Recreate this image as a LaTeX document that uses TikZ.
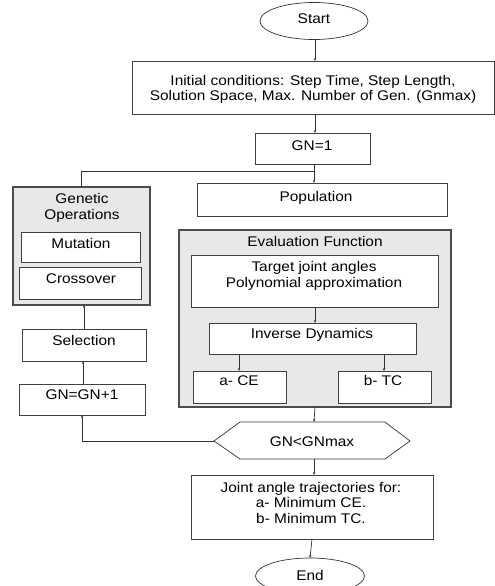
\documentclass[tikz,border=0pt]{standalone}
\usepackage{fontspec}
\setmainfont[FakeStretch=1.1]{Liberation Sans}
\usetikzlibrary{arrows.meta,shapes.geometric}
\begin{document}
\begin{tikzpicture}[x=1pt,y=-1pt,
  every node/.style={inner sep=0pt,outer sep=0pt},
  box/.style={draw=black!75,line width=0.8pt,fill=white,anchor=north west},
  gbox/.style={draw=black!70,line width=1.1pt,fill=gray!18,anchor=north west},
  txt/.style={anchor=base,font=\fontsize{14}{16}\selectfont,align=center},
  ln/.style={draw=black!80,line width=0.7pt},
  arr/.style={ln,-{Stealth[length=3pt,width=2.4pt]}}]
\useasboundingbox (0,0) rectangle (495,586);
% ellipses
\node[draw=black!80,line width=0.7pt,ellipse,minimum width=108pt,minimum height=37pt] (start) at (314,21) {};
\node[txt] (tstart) at (314,24) {Start};
% initial
\node[box,minimum width=362pt,minimum height=53pt] (init) at (132,61) {};
\node[txt] (tinit1) at (313,85) {Initial conditions: Step Time, Step Length,};
\node[txt] (tinit2) at (313,100) {Solution Space, Max. Number of Gen. (Gnmax)};
% GN=1
\node[box,minimum width=115pt,minimum height=31pt] (gn1) at (255,133) {};
\node[txt] (tgn1) at (312,150) {GN=1};
% population
\node[box,minimum width=250pt,minimum height=33pt] (pop) at (197,183) {};
\node[txt] (tpop) at (316,201) {Population};
% genetic operations
\node[gbox,minimum width=137pt,minimum height=118pt] (gen) at (13,187) {};
\node[txt] (tgen1) at (82,203) {Genetic};
\node[txt] (tgen2) at (82,219) {Operations};
\node[box,minimum width=119pt,minimum height=30pt] (mut) at (21,232) {};
\node[txt] (tmut) at (81,248) {Mutation};
\node[box,minimum width=122pt,minimum height=32pt] (cross) at (19,267) {};
\node[txt] (tcross) at (81,283) {Crossover};
% selection
\node[box,minimum width=124pt,minimum height=32pt] (sel) at (22,329) {};
\node[txt] (tsel) at (84,345) {Selection};
% GN=GN+1
\node[box,minimum width=126pt,minimum height=31pt] (gninc) at (19,384) {};
\node[txt] (tgninc) at (82,399) {GN=GN+1};
% evaluation function
\node[gbox,minimum width=272pt,minimum height=177pt] (eval) at (179,230) {};
\node[txt] (teval) at (315,246) {Evaluation Function};
\node[box,minimum width=247pt,minimum height=52pt] (target) at (191,255) {};
\node[txt] (ttarget1) at (314,271) {Target joint angles};
\node[txt] (ttarget2) at (314,287) {Polynomial approximation};
\node[box,minimum width=207pt,minimum height=31pt] (inv) at (209,323) {};
\node[txt] (tinv) at (312,338) {Inverse Dynamics};
\node[box,minimum width=93pt,minimum height=32pt] (ce) at (193,371) {};
\node[txt] (tce) at (239,385) {a- CE};
\node[box,minimum width=93pt,minimum height=32pt] (tc) at (338,371) {};
\node[txt] (ttc) at (383,385) {b- TC};
% decision hexagon
\draw[draw=black!80,line width=0.7pt,fill=white] (214,441) -- (240,422) -- (385,422) -- (410,441) -- (385,459) -- (240,459) -- cycle;
\coordinate (hexL) at (214,441);
\coordinate (hexT) at (314,422);
\coordinate (hexB) at (314,459);
\node[txt] (thex) at (312,446) {GN<GNmax};
% joint
\node[box,minimum width=242pt,minimum height=64pt] (joint) at (191,475) {};
\node[txt] (tj1) at (311,492) {Joint angle trajectories for:};
\node[txt] (tj2) at (311,507) {a- Minimum CE.};
\node[txt] (tj3) at (311,523) {b- Minimum TC.};
% end
\node[draw=black!80,line width=0.7pt,ellipse,minimum width=109pt,minimum height=36pt] (end) at (310,576) {};
\node[txt] (tend) at (310,580) {End};
% connectors
\draw[arr] (start.south -| 315,0) -- (315,61);
\draw[arr] (315,114) -- (315,133);
\coordinate (j1) at (314,171);
\draw[arr] (314,164) -- (314,183);
\draw[ln] (81,187) -- (81,171) -- (j1);
\draw[arr] (84,329) -- (84,305);
\draw[arr] (83,384) -- (83,361);
\draw[arr] (315,307) -- (315,323);
\draw[arr] (239,354) -- (239,371);
\draw[arr] (384,354) -- (384,371);
\draw[arr] (315,407) -- (hexT);
\draw[arr] (hexL) -- (82,441) -- (82,415);
\draw[arr] (hexB) -- (314,475);
\draw[arr] (312,539) -- (end.north);
\end{tikzpicture}
\end{document}
